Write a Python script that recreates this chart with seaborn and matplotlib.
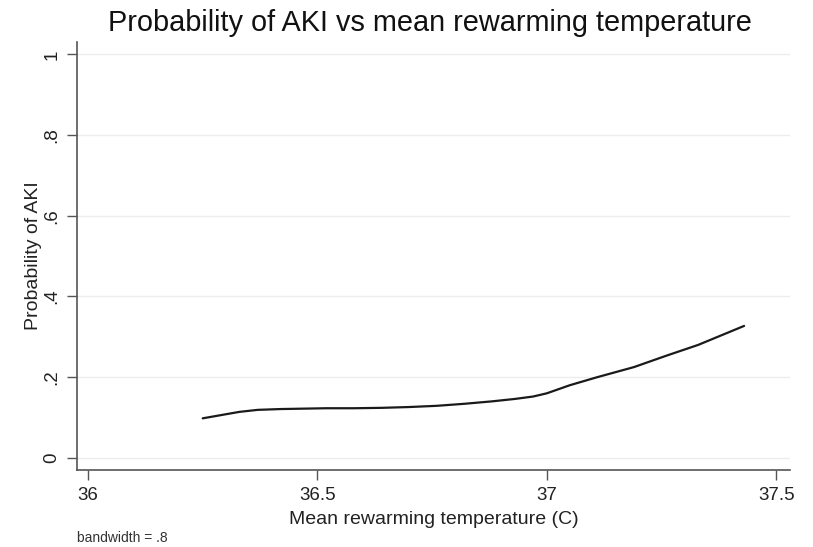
import matplotlib
matplotlib.use("Agg")
import matplotlib.pyplot as plt
import seaborn as sns
import pandas as pd

temperature = [36.25, 36.30, 36.33, 36.37, 36.42, 36.47, 36.52, 36.58, 36.64, 36.70, 36.76,
               36.82, 36.88, 36.93, 36.97, 37.00, 37.05, 37.11, 37.19, 37.26, 37.33, 37.43]
prob_aki = [0.098, 0.108, 0.114, 0.119, 0.121, 0.122, 0.123, 0.123, 0.124, 0.126, 0.129,
            0.134, 0.140, 0.146, 0.152, 0.160, 0.180, 0.200, 0.225, 0.253, 0.280, 0.327]
yticks = [0, 0.2, 0.4, 0.6, 0.8, 1.0]
yticklabels = ["0", ".2", ".4", ".6", ".8", "1"]
xticks = [36, 36.5, 37, 37.5]
xticklabels = ["36", "36.5", "37", "37.5"]

sns.set_theme(style="white")
plt.rcParams['font.family'] = ['Liberation Sans', 'DejaVu Sans']

fig = plt.figure(figsize=(8.13, 5.47), dpi=100)
ax = fig.add_axes([0.0947, 0.1408, 0.877, 0.782])

df = pd.DataFrame({"temp": temperature, "prob": prob_aki})
sns.lineplot(data=df, x="temp", y="prob", ax=ax, color="#1a1a1a", linewidth=1.6)

ax.set_xlim(35.976, 37.53)
ax.set_ylim(-0.03, 1.03)
ax.set_yticks(yticks)
ax.set_yticklabels(yticklabels, rotation=90, va="center")
ax.set_xticks(xticks)
ax.set_xticklabels(xticklabels)
ax.tick_params(axis="both", which="both", direction="out", length=7, width=1,
               color="#555555", labelsize=13.5, labelcolor="#222222", left=True, bottom=True, pad=5)
for y in yticks:
    ax.axhline(y, color="#ededed", linewidth=1, zorder=0)
for s in ["top", "right"]:
    ax.spines[s].set_visible(False)
for s in ["left", "bottom"]:
    ax.spines[s].set_color("#555555")
    ax.spines[s].set_linewidth(1.2)

ax.set_xlabel("Mean rewarming temperature (C)", fontsize=14, color="#222222", labelpad=5)
ax.set_ylabel("Probability of AKI", fontsize=14, color="#222222", labelpad=1)
fig.text(0.529, 0.958, "Probability of AKI vs mean rewarming temperature", ha="center",
         va="center", fontsize=20.8, color="#111111")
fig.text(0.095, 0.003, "bandwidth = .8", fontsize=10, color="#333333", ha="left", va="bottom")

fig.savefig("out.png", dpi=100)
